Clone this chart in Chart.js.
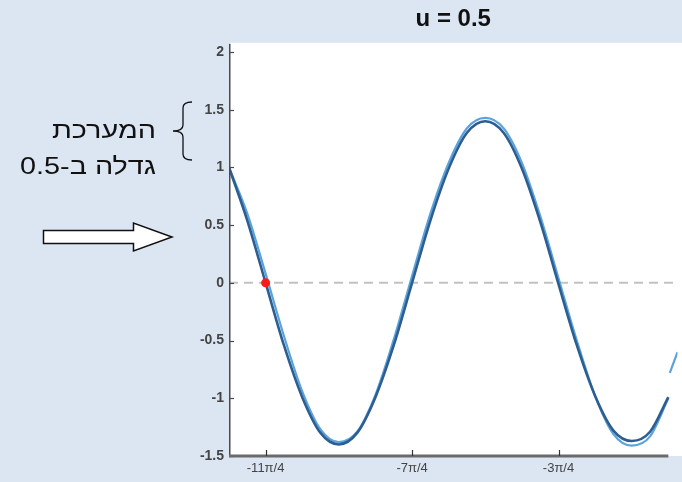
<!DOCTYPE html>
<html lang="he">
<head>
<meta charset="utf-8">
<script src="https://cdn.jsdelivr.net/npm/chart.js@4/dist/chart.umd.min.js"></script>
<style>
  html, body { margin: 0; padding: 0; background: #dce6f2; }
  #wrap { position: relative; width: 682px; height: 482px; overflow: hidden; }
  #c { position: absolute; left: 0; top: 0; }
  .note {
    position: absolute; left: 0; width: 156px; height: 36px;
    font-family: "Liberation Sans", Arial, sans-serif; font-size: 24px;
    line-height: 36px; color: #111; text-align: right; direction: rtl;
    white-space: nowrap; transform: scaleX(1.2); transform-origin: 156px 50%;
  }
</style>
</head>
<body>
<div id="wrap">
  <canvas id="c" width="682" height="482"></canvas>
  <div class="note" dir="rtl" style="top:112px">המערכת</div>
  <div class="note" dir="rtl" style="top:148px">גדלה ב-0.5</div>
</div>
<script>
// x positions in units of π
const xPi = [-3, -2.875, -2.75, -2.625, -2.5, -2.375, -2.25, -2.125, -2, -1.875,
  -1.75, -1.625, -1.5, -1.375, -1.25, -1.125, -1, -0.875, -0.75, -0.625,
  -0.5, -0.375, -0.25, -0.125, 0];

// reference response (dark line)
const darkY = [1.00, 0.54, 0.00, -0.54, -0.99, -1.30, -1.40, -1.30, -0.99, -0.54,
  0.00, 0.54, 0.99, 1.30, 1.40, 1.30, 0.99, 0.53, -0.01, -0.54,
  -0.98, -1.28, -1.37, -1.29, -0.99];

// response with u = 0.5 (light line)
const lightY = [1.00, 0.60, 0.08, -0.46, -0.94, -1.27, -1.38, -1.29, -0.97, -0.49,
  0.06, 0.60, 1.04, 1.34, 1.43, 1.34, 1.04, 0.58, 0.04, -0.50,
  -0.98, -1.31, -1.41, -1.33, -1.00];

// short continuation of the light line after a break
const lightTailX = [0.004, 0.01, 0.0625];
const lightTailY = [null, -0.78, -0.60];

// marked point on the zero line
const markX = [-2.75];
const markY = [0];

// zero reference line
const zeroX = [-3, 0.0625];
const zeroY = [0, 0];

// tick values and labels
const yTicks = [-1.5, -1, -0.5, 0, 0.5, 1, 1.5, 2];
const xTicks = [-2.75, -1.75, -0.75];
const xTickLabels = ['-11π/4', '-7π/4', '-3π/4'];

const pts = (xs, ys) => xs.map((x, i) => ({ x: x, y: ys[i] }));

const darkLine = '#2d5e92';
const lightLine = '#5aa3dc';
const sans = '"Liberation Sans", Arial, sans-serif';

// white plot panel, axis lines, inner tick marks and side annotations
const decor = {
  id: 'decor',
  beforeDraw(chart) {
    const { ctx, chartArea: a } = chart;
    ctx.save();
    ctx.fillStyle = '#ffffff';
    ctx.fillRect(a.left, a.top, chart.width - a.left, a.bottom - a.top);
    ctx.restore();
  },
  afterDraw(chart) {
    const { ctx, chartArea: a, scales: { x, y } } = chart;
    ctx.save();
    // left axis
    ctx.strokeStyle = '#4a4a4a';
    ctx.lineWidth = 1.5;
    ctx.beginPath();
    ctx.moveTo(a.left + 0.75, a.top + 1);
    ctx.lineTo(a.left + 0.75, a.bottom);
    ctx.stroke();
    // y tick marks (inside)
    ctx.lineWidth = 1.2;
    yTicks.forEach(v => {
      const py = Math.round(y.getPixelForValue(v)) + 0.5;
      ctx.beginPath();
      ctx.moveTo(a.left, py);
      ctx.lineTo(a.left + 5, py);
      ctx.stroke();
    });
    // bottom axis
    ctx.strokeStyle = '#6a6a6a';
    ctx.lineWidth = 3;
    ctx.beginPath();
    ctx.moveTo(a.left, a.bottom);
    ctx.lineTo(x.getPixelForValue(0), a.bottom);
    ctx.stroke();
    // x tick marks (inside)
    ctx.strokeStyle = '#333';
    ctx.lineWidth = 1.2;
    xTicks.forEach(v => {
      const px = Math.round(x.getPixelForValue(v)) + 0.5;
      ctx.beginPath();
      ctx.moveTo(px, a.bottom);
      ctx.lineTo(px, a.bottom - 6);
      ctx.stroke();
    });

    // brace beside the annotation
    ctx.strokeStyle = '#111';
    ctx.lineWidth = 1.3;
    ctx.beginPath();
    ctx.moveTo(192, 102);
    ctx.quadraticCurveTo(183, 102, 183, 108);
    ctx.lineTo(183, 125);
    ctx.quadraticCurveTo(183, 131, 173, 131);
    ctx.quadraticCurveTo(183, 131, 183, 137);
    ctx.lineTo(183, 154);
    ctx.quadraticCurveTo(183, 160, 192, 160);
    ctx.stroke();

    // outlined arrow
    ctx.fillStyle = '#ffffff';
    ctx.strokeStyle = '#111';
    ctx.lineWidth = 1.5;
    ctx.beginPath();
    ctx.moveTo(43.5, 230.5);
    ctx.lineTo(133.5, 230.5);
    ctx.lineTo(133.5, 223);
    ctx.lineTo(172, 237);
    ctx.lineTo(133.5, 251);
    ctx.lineTo(133.5, 243.5);
    ctx.lineTo(43.5, 243.5);
    ctx.closePath();
    ctx.fill();
    ctx.stroke();
    ctx.restore();
  }
};

new Chart(document.getElementById('c'), {
  type: 'line',
  data: {
    datasets: [
      {
        data: pts(markX, markY), showLine: false,
        pointRadius: 4.5, pointBackgroundColor: '#ff1a1a', pointBorderWidth: 0, order: 0
      },
      {
        data: pts(xPi, darkY), borderColor: darkLine, borderWidth: 2.6,
        pointRadius: 0, cubicInterpolationMode: 'monotone', order: 1
      },
      {
        data: pts(xPi, lightY).concat(pts(lightTailX, lightTailY)),
        borderColor: lightLine, borderWidth: 2.2, spanGaps: false,
        pointRadius: 0, cubicInterpolationMode: 'monotone', order: 2
      },
      {
        data: pts(zeroX, zeroY), borderColor: '#c2c2c2', borderWidth: 2,
        borderDash: [9, 6], pointRadius: 0, order: 3
      }
    ]
  },
  options: {
    responsive: false,
    animation: false,
    layout: { padding: { left: 0, right: 0, top: 0, bottom: 0 } },
    plugins: {
      legend: { display: false },
      tooltip: { enabled: false },
      title: {
        display: true, text: 'u = 0.5', color: '#111', fullSize: false,
        font: { family: sans, size: 24, weight: 'bold' },
        padding: { top: 5, bottom: 9 }
      }
    },
    scales: {
      x: {
        type: 'linear', min: -3, max: 0.0625,
        grid: { display: false, drawTicks: false },
        border: { display: false },
        afterFit(s) { s.height = 26; },
        afterBuildTicks(s) { s.ticks = xTicks.map(v => ({ value: v })); },
        ticks: {
          padding: 5, color: '#444', maxRotation: 0, autoSkip: false,
          font: { family: sans, size: 13 },
          callback: (v) => xTickLabels[xTicks.indexOf(v)]
        }
      },
      y: {
        min: -1.5, max: 2.08,
        grid: { display: false, drawTicks: false },
        border: { display: false },
        afterFit(s) { s.width = 229; },
        afterBuildTicks(s) { s.ticks = yTicks.map(v => ({ value: v })); },
        ticks: {
          padding: 5, color: '#444',
          font: { family: sans, size: 14, weight: 'bold' },
          callback: (v) => String(v)
        }
      }
    }
  },
  plugins: [decor]
});
</script>
</body>
</html>
